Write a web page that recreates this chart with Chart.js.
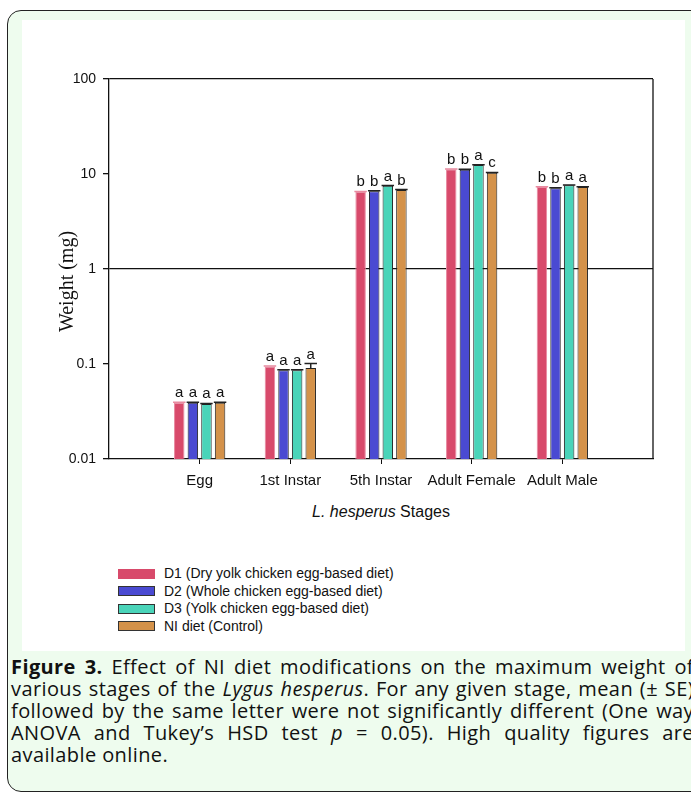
<!DOCTYPE html>
<html>
<head>
<meta charset="utf-8">
<script src="https://cdn.jsdelivr.net/npm/chart.js@4.4.1/dist/chart.umd.min.js"></script>
<style>
    body {
        margin: 0;
        width: 691px;
        height: 793px;
        overflow: hidden;
        position: relative;
        background: #fff;
        font-family: Arial, "Liberation Sans", sans-serif;
    }
    #box {
        position: absolute;
        left: 7px;
        top: 10px;
        width: 720px;
        height: 780px;
        border: 1.5px solid #222;
        border-radius: 14px;
        background: #eefcee;
    }
    #panel {
        position: absolute;
        left: 22px;
        top: 20px;
        width: 663px;
        height: 631px;
        background: #fff;
    }
    #myChart {
        position: absolute;
        left: 0;
        top: 0;
    }
    #xTitle {
        position: absolute;
        left: 87px;
        width: 544px;
        top: 483px;
        text-align: center;
        font-size: 16px;
        color: #111;
    }
    #legend {
        position: absolute;
        left: 96px;
        top: 545px;
        font-size: 14px;
        color: #111;
    }
    .row {
        height: 17.5px;
        line-height: 17.5px;
        display: flex;
        align-items: center;
    }
    .swatch {
        width: 35px;
        height: 8px;
        margin-right: 9px;
        border: 1px solid #333;
    }
    #caption {
        position: absolute;
        left: 11px;
        top: 656px;
        width: 683px;
        font-family: "Open Sans", Lato, sans-serif;
        font-size: 20px;
        letter-spacing: 0.4px;
        line-height: 22px;
        color: #111;
    }
    #caption div {
        text-align: justify;
        text-align-last: justify;
        white-space: nowrap;
    }
    #caption div.last {
        text-align-last: left;
    }
</style>
</head>
<body>
<div id="box"></div>
<div id="panel">
    <canvas id="myChart" width="663" height="480"></canvas>
    <div id="xTitle"><i>L. hesperus</i> Stages</div>
    <div id="legend"></div>
</div>
<div id="caption">
    <div><b>Figure 3.</b> Effect of NI diet modifications on the maximum weight of</div>
    <div>various stages of the <i>Lygus hesperus</i>. For any given stage, mean (± SE)</div>
    <div>followed by the same letter were not significantly different (One way</div>
    <div>ANOVA and Tukey’s HSD test <i>p</i> = 0.05). High quality figures are</div>
    <div class="last">available online.</div>
</div>
<script>
// 단계별 최대 체중 (mg)
const stages = ['Egg', '1st Instar', '5th Instar', 'Adult Female', 'Adult Male'];
const seriesNames = [
    'D1 (Dry yolk chicken egg-based diet)',
    'D2 (Whole chicken egg-based diet)',
    'D3 (Yolk chicken egg-based diet)',
    'NI diet (Control)'
];
const d1 = [0.039, 0.094, 6.5, 11.2, 7.3];
const d2 = [0.039, 0.086, 6.6, 11.1, 7.1];
const d3 = [0.038, 0.086, 7.5, 12.4, 7.6];
const ni = [0.039, 0.091, 6.8, 10.3, 7.3];
const d1Se = [0.0005, 0.001, 0.05, 0.1, 0.05];
const d2Se = [0.0005, 0.001, 0.05, 0.1, 0.05];
const d3Se = [0.0005, 0.001, 0.05, 0.1, 0.05];
const niSe = [0.0005, 0.010, 0.05, 0.1, 0.05];
const d1Letters = ['a', 'a', 'b', 'b', 'b'];
const d2Letters = ['a', 'a', 'b', 'b', 'b'];
const d3Letters = ['a', 'a', 'a', 'a', 'a'];
const niLetters = ['a', 'a', 'b', 'c', 'a'];
const yTicks = [0.01, 0.1, 1, 10, 100];

const fills = ['#d84a6b', '#4a4ad2', '#4ad4b9', '#d4924a'];
const borders = ['#e88aa0', '#222', '#222', '#222'];
const allValues = [d1, d2, d3, ni];
const allSe = [d1Se, d2Se, d3Se, niSe];
const allLetters = [d1Letters, d2Letters, d3Letters, niLetters];

// 양 끝에 빈 칸을 넣어서 카테고리 간격을 맞춤
const labels = [''].concat(stages, ['']);

const errorLetters = {
    id: 'errorLetters',
    afterDatasetsDraw(chart) {
        const ctx = chart.ctx;
        const y = chart.scales.y;
        chart.data.datasets.forEach(function (ds, i) {
            const meta = chart.getDatasetMeta(i);
            meta.data.forEach(function (bar, j) {
                if (ds.data[j] == null) return;
                const k = j - 1;
                const top = y.getPixelForValue(ds.data[j] + allSe[i][k]);
                const half = bar.width / 2 + 1;
                ctx.save();
                ctx.strokeStyle = borders[i];
                ctx.lineWidth = 1.5;
                ctx.beginPath();
                ctx.moveTo(bar.x, bar.y);
                ctx.lineTo(bar.x, top);
                ctx.moveTo(bar.x - half, top);
                ctx.lineTo(bar.x + half, top);
                ctx.stroke();
                ctx.fillStyle = '#111';
                ctx.font = '15px Arial, "Liberation Sans", sans-serif';
                ctx.textAlign = 'center';
                ctx.textBaseline = 'alphabetic';
                ctx.fillText(allLetters[i][k], bar.x, top - 5);
                ctx.restore();
            });
        });
    }
};

const frameRight = {
    id: 'frameRight',
    afterDraw(chart) {
        const a = chart.chartArea;
        const ctx = chart.ctx;
        ctx.save();
        ctx.strokeStyle = '#111';
        ctx.lineWidth = 1.3;
        ctx.beginPath();
        ctx.moveTo(a.right, a.top);
        ctx.lineTo(a.right, a.bottom);
        ctx.stroke();
        ctx.restore();
    }
};

const ctx = document.querySelector('#myChart');
new Chart(ctx, {
    type: 'bar',
    data: {
        labels: labels,
        datasets: allValues.map(function (vals, i) {
            return {
                label: seriesNames[i],
                data: [null].concat(vals, [null]),
                backgroundColor: fills[i],
                borderColor: borders[i],
                borderWidth: 1,
                categoryPercentage: 0.6,
                barPercentage: 0.77
            };
        })
    },
    options: {
        responsive: false,
        animation: false,
        layout: {
            padding: {left: 0, top: 59, right: 32, bottom: 0}
        },
        plugins: {
            legend: {display: false},
            tooltip: {enabled: false}
        },
        scales: {
            x: {
                offset: false,
                grid: {
                    offset: false,
                    drawOnChartArea: false,
                    color: '#111',
                    tickColor: function (c) {
                        return (c.index === 0 || c.index === labels.length - 1) ? 'rgba(0,0,0,0)' : '#111';
                    },
                    tickLength: 5
                },
                border: {color: '#111', width: 1.3},
                ticks: {
                    color: '#111',
                    padding: 8,
                    maxRotation: 0,
                    autoSkip: false,
                    font: {family: 'Arial, "Liberation Sans", sans-serif', size: 15}
                },
                afterFit: function (scale) {
                    scale.height = 41;
                }
            },
            y: {
                type: 'logarithmic',
                min: 0.01,
                max: 100,
                z: 1,
                afterBuildTicks: function (scale) {
                    scale.ticks = yTicks.map(function (v) { return {value: v}; });
                },
                grid: {
                    color: function (c) {
                        return (c.tick && (c.tick.value === 1 || c.tick.value === 100)) ? '#111' : 'rgba(0,0,0,0)';
                    },
                    tickColor: '#111',
                    tickLength: 6,
                    lineWidth: 1.3
                },
                border: {color: '#111', width: 1.3},
                ticks: {
                    color: '#111',
                    padding: 7,
                    font: {family: 'Arial, "Liberation Sans", sans-serif', size: 14},
                    callback: function (v) {
                        return String(v);
                    }
                },
                title: {
                    display: true,
                    text: 'Weight (mg)     ',
                    color: '#111',
                    padding: {top: 34, bottom: 0},
                    font: {family: '"Liberation Serif", "DejaVu Serif", serif', size: 20}
                },
                afterFit: function (scale) {
                    scale.width = 87;
                }
            }
        }
    },
    plugins: [errorLetters, frameRight]
});

// 범례
const legend = document.querySelector('#legend');
seriesNames.forEach(function (name, i) {
    const row = document.createElement('div');
    row.className = 'row';
    const sw = document.createElement('span');
    sw.className = 'swatch';
    sw.style.background = fills[i];
    sw.style.borderColor = i === 0 ? fills[i] : '#333';
    row.appendChild(sw);
    row.appendChild(document.createTextNode(name));
    legend.appendChild(row);
});
</script>
</body>
</html>
